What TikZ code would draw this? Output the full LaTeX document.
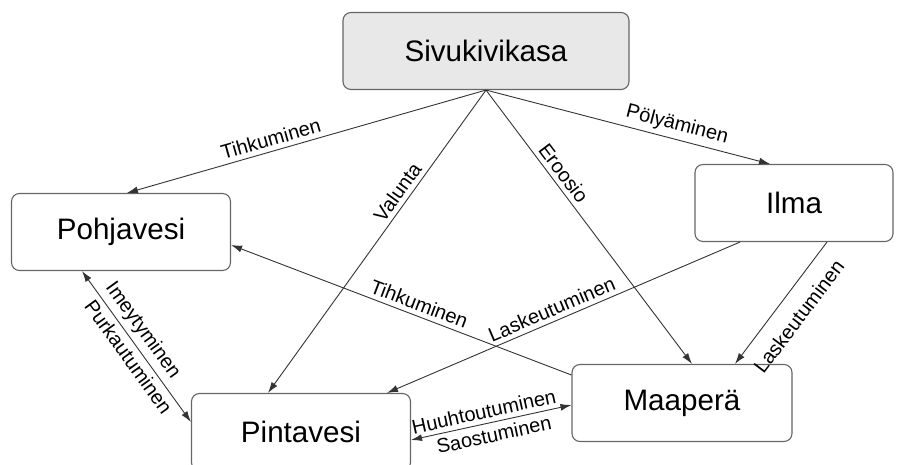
\documentclass[tikz,border=0pt]{standalone}
\usepackage{fontspec}
\setmainfont{Liberation Sans}
\usetikzlibrary{arrows.meta, positioning}

\begin{document}
\begin{tikzpicture}[
        node distance = 100pt, on grid,
        >= {Latex[length = 11pt, width = 7pt]},
        box/.style = {draw = black!60, line width = 1.1pt, rounded corners = 8pt, minimum height = 77pt, inner sep = 0pt, font = \fontsize{29.6}{34}\selectfont},
        flow/.style = {draw = black!80, line width = 0.9pt},
        lbl/.style = {font = \fontsize{20}{24}\selectfont, sloped, inner sep = 4.5pt}
    ]
      \useasboundingbox (0,0) rectangle (903pt,-465pt);
      \node[box, fill = black!9, minimum width = 286pt] (sivu) at (486pt,-51pt) {Sivukivikasa};
      \node[box, minimum width = 219pt] (pohja) [below left = 181pt and 365pt of sivu] {Pohjavesi};
      \node[box, minimum width = 198pt] (ilma) [below right = 152pt and 308pt of sivu] {Ilma};
      \node[box, minimum width = 220pt] (maa) [below right = 352pt and 196pt of sivu] {Maaperä};
      \node[box, minimum width = 219pt] (pinta) [below left = 381pt and 185pt of sivu] {Pintavesi};

      % kasalta
      \path (sivu.south) edge[->, flow] node[lbl, above, pos = 0.59] {Tihkuminen} ([xshift = 6pt]pohja.north);
      \path (sivu.south) edge[->, flow] node[lbl, above, pos = 0.36] {Valunta} ([xshift = -33pt]pinta.north);
      \path (sivu.south) edge[->, flow] node[lbl, above, pos = 0.33] {Eroosio} ([xshift = 10pt]maa.north);
      \path (sivu.south) edge[->, flow] node[lbl, above, pos = 0.66] {Pölyäminen} ([xshift = -24pt]ilma.north);

      % ilmasta
      \path ([xshift = -54pt]ilma.south) edge[->, flow] node[lbl, above, pos = 0.52] {Laskeutuminen} ([xshift = 86pt]pinta.north);
      \path ([xshift = 33pt]ilma.south) edge[->, flow] node[lbl, below = 10pt, pos = 0.50] {Laskeutuminen} ([xshift = 53pt]maa.north);

      % maaperasta ja vesien valilla
      \path ([yshift = 28pt]maa.west) edge[->, flow] node[lbl, above, pos = 0.46] {Tihkuminen} ([yshift = -13pt]pohja.east);
      \path ([xshift = -39pt]pohja.south) edge[<->, flow] node[lbl, above, pos = 0.45] {Imeytyminen}
                                                        node[lbl, below, pos = 0.52] {Purkautuminen} ([yshift = 10pt]pinta.west);
      \path ([yshift = -8pt]pinta.east) edge[<->, flow] node[lbl, above, pos = 0.47] {Huuhtoutuminen}
                                                      node[lbl, below, pos = 0.50] {Saostuminen} ([yshift = -2pt]maa.west);
    \end{tikzpicture}
\end{document}
